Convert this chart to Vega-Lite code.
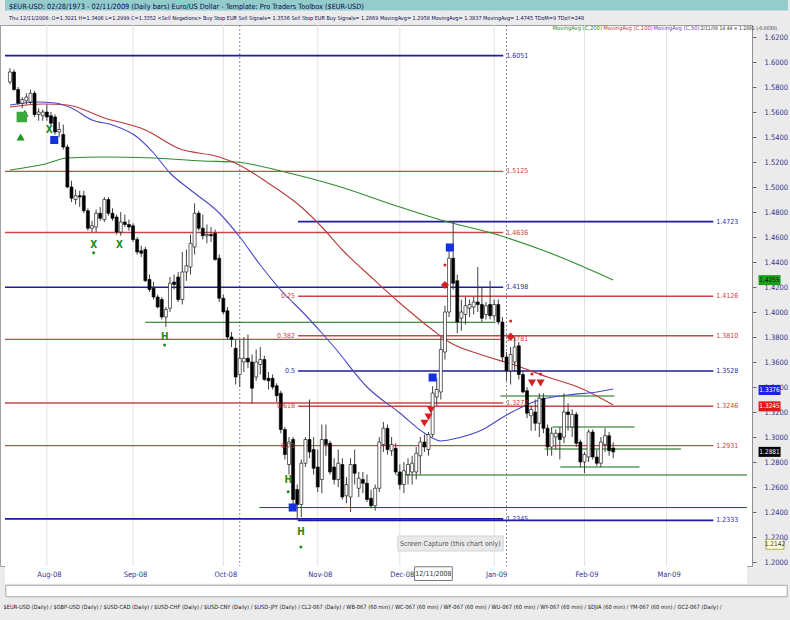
{
"$schema":"https://vega.github.io/schema/vega-lite/v6.json",
"width":752,"height":541,
"autosize":{"type":"none"},
"padding":{"left":0,"top":25,"right":38,"bottom":54},
"background":"#ebebeb",
"config":{"view":{"stroke":"#a0a0a0","fill":"white"},"font":"Liberation Sans Narrow, DejaVu Sans Condensed, sans-serif","axis":{"labelOverlap":false}},
"title":{"text":"$EUR-USD:  02/28/1973 - 02/11/2009  (Daily bars)    Euro/US Dollar  -  Template: Pro Traders Toolbox ($EUR-USD)","subtitle":"Thu 12/11/2008:  O=1.3021  H=1.3406  L=1.2999  C=1.3352  <Sell Negations>  Buy Stop EUR Sell Signals= 1.3536  Sell Stop EUR Buy Signals= 1.2869  MovingAvg= 1.2958  MovingAvg= 1.3837  MovingAvg= 1.4745  TDoM=9  TDoY=248","anchor":"start","frame":"group","offset":-21,"fontSize":7.3,"fontWeight":"normal","color":"#0a0a50","subtitleFontSize":5.5,"subtitleColor":"#0a0a50","subtitlePadding":5,"dx":9,"zindex":1},
"resolve":{"scale":{"color":"independent","strokeWidth":"independent","shape":"independent","size":"independent"}},
"datasets":{
"c":[
{"i":0,"o":1.584,"h":1.595,"l":1.582,"c":1.592},{"i":1,"o":1.592,"h":1.594,"l":1.577,"c":1.578},{"i":2,"o":1.578,"h":1.580,"l":1.566,"c":1.567},{"i":3,"o":1.567,"h":1.572,"l":1.563,"c":1.570},{"i":4,"o":1.569,"h":1.575,"l":1.566,"c":1.572},{"i":5,"o":1.568,"h":1.578,"l":1.566,"c":1.575},{"i":6,"o":1.575,"h":1.577,"l":1.556,"c":1.558},{"i":7,"o":1.558,"h":1.563,"l":1.553,"c":1.560},{"i":8,"o":1.557,"h":1.562,"l":1.553,"c":1.560},{"i":9,"o":1.560,"h":1.566,"l":1.553,"c":1.556},
{"i":10,"o":1.557,"h":1.560,"l":1.549,"c":1.551},{"i":11,"o":1.556,"h":1.558,"l":1.542,"c":1.544},{"i":12,"o":1.544,"h":1.552,"l":1.540,"c":1.546},{"i":13,"o":1.542,"h":1.550,"l":1.530,"c":1.532},{"i":14,"o":1.532,"h":1.534,"l":1.499,"c":1.500},{"i":15,"o":1.500,"h":1.505,"l":1.488,"c":1.491},{"i":16,"o":1.490,"h":1.498,"l":1.486,"c":1.493},{"i":17,"o":1.493,"h":1.497,"l":1.484,"c":1.492},{"i":18,"o":1.493,"h":1.497,"l":1.479,"c":1.481},{"i":19,"o":1.481,"h":1.483,"l":1.465,"c":1.467},
{"i":20,"o":1.467,"h":1.473,"l":1.464,"c":1.469},{"i":21,"o":1.468,"h":1.482,"l":1.464,"c":1.479},{"i":22,"o":1.479,"h":1.484,"l":1.473,"c":1.475},{"i":23,"o":1.474,"h":1.492,"l":1.472,"c":1.490},{"i":24,"o":1.490,"h":1.492,"l":1.477,"c":1.479},{"i":25,"o":1.479,"h":1.483,"l":1.473,"c":1.475},{"i":26,"o":1.476,"h":1.478,"l":1.462,"c":1.464},{"i":27,"o":1.464,"h":1.480,"l":1.461,"c":1.472},{"i":28,"o":1.472,"h":1.478,"l":1.468,"c":1.470},{"i":29,"o":1.470,"h":1.474,"l":1.465,"c":1.468},
{"i":30,"o":1.469,"h":1.471,"l":1.456,"c":1.458},{"i":31,"o":1.458,"h":1.460,"l":1.446,"c":1.448},{"i":32,"o":1.449,"h":1.453,"l":1.444,"c":1.447},{"i":33,"o":1.450,"h":1.452,"l":1.424,"c":1.425},{"i":34,"o":1.426,"h":1.430,"l":1.416,"c":1.418},{"i":35,"o":1.419,"h":1.424,"l":1.410,"c":1.412},{"i":36,"o":1.412,"h":1.414,"l":1.403,"c":1.404},{"i":37,"o":1.410,"h":1.412,"l":1.394,"c":1.396},{"i":38,"o":1.396,"h":1.404,"l":1.388,"c":1.402},{"i":39,"o":1.403,"h":1.428,"l":1.400,"c":1.423},
{"i":40,"o":1.424,"h":1.430,"l":1.418,"c":1.422},{"i":41,"o":1.428,"h":1.432,"l":1.408,"c":1.410},{"i":42,"o":1.410,"h":1.448,"l":1.406,"c":1.432},{"i":43,"o":1.432,"h":1.450,"l":1.425,"c":1.437},{"i":44,"o":1.436,"h":1.462,"l":1.430,"c":1.455},{"i":45,"o":1.452,"h":1.487,"l":1.446,"c":1.479},{"i":46,"o":1.479,"h":1.481,"l":1.465,"c":1.467},{"i":47,"o":1.467,"h":1.478,"l":1.458,"c":1.461},{"i":48,"o":1.461,"h":1.470,"l":1.455,"c":1.462},{"i":49,"o":1.462,"h":1.468,"l":1.456,"c":1.461},
{"i":50,"o":1.463,"h":1.466,"l":1.441,"c":1.442},{"i":51,"o":1.443,"h":1.446,"l":1.408,"c":1.411},{"i":52,"o":1.411,"h":1.414,"l":1.398,"c":1.400},{"i":53,"o":1.401,"h":1.404,"l":1.378,"c":1.380},{"i":54,"o":1.380,"h":1.384,"l":1.372,"c":1.378},{"i":55,"o":1.371,"h":1.378,"l":1.342,"c":1.348},{"i":56,"o":1.350,"h":1.378,"l":1.340,"c":1.363},{"i":57,"o":1.360,"h":1.380,"l":1.352,"c":1.363},{"i":58,"o":1.363,"h":1.382,"l":1.355,"c":1.360},{"i":59,"o":1.360,"h":1.366,"l":1.327,"c":1.339},
{"i":60,"o":1.348,"h":1.370,"l":1.345,"c":1.360},{"i":61,"o":1.358,"h":1.372,"l":1.350,"c":1.362},{"i":62,"o":1.362,"h":1.365,"l":1.345,"c":1.346},{"i":63,"o":1.347,"h":1.352,"l":1.338,"c":1.345},{"i":64,"o":1.347,"h":1.350,"l":1.338,"c":1.340},{"i":65,"o":1.341,"h":1.343,"l":1.328,"c":1.333},{"i":66,"o":1.335,"h":1.337,"l":1.303,"c":1.306},{"i":67,"o":1.306,"h":1.308,"l":1.282,"c":1.286},{"i":68,"o":1.278,"h":1.300,"l":1.270,"c":1.296},{"i":69,"o":1.298,"h":1.300,"l":1.245,"c":1.250},
{"i":70,"o":1.258,"h":1.262,"l":1.2333,"c":1.246},{"i":71,"o":1.246,"h":1.282,"l":1.236,"c":1.279},{"i":72,"o":1.279,"h":1.300,"l":1.276,"c":1.298},{"i":73,"o":1.298,"h":1.330,"l":1.283,"c":1.288},{"i":74,"o":1.290,"h":1.300,"l":1.270,"c":1.275},{"i":75,"o":1.276,"h":1.290,"l":1.256,"c":1.260},{"i":76,"o":1.266,"h":1.310,"l":1.255,"c":1.298},{"i":77,"o":1.298,"h":1.310,"l":1.285,"c":1.294},{"i":78,"o":1.295,"h":1.297,"l":1.270,"c":1.272},{"i":79,"o":1.276,"h":1.283,"l":1.262,"c":1.266},
{"i":80,"o":1.266,"h":1.290,"l":1.260,"c":1.279},{"i":81,"o":1.278,"h":1.283,"l":1.250,"c":1.252},{"i":82,"o":1.253,"h":1.268,"l":1.247,"c":1.262},{"i":83,"o":1.252,"h":1.283,"l":1.240,"c":1.278},{"i":84,"o":1.278,"h":1.290,"l":1.262,"c":1.271},{"i":85,"o":1.259,"h":1.272,"l":1.252,"c":1.267},{"i":86,"o":1.266,"h":1.272,"l":1.255,"c":1.263},{"i":87,"o":1.263,"h":1.270,"l":1.248,"c":1.250},{"i":88,"o":1.251,"h":1.258,"l":1.243,"c":1.245},{"i":89,"o":1.245,"h":1.262,"l":1.241,"c":1.259},
{"i":90,"o":1.259,"h":1.300,"l":1.256,"c":1.296},{"i":91,"o":1.294,"h":1.312,"l":1.288,"c":1.307},{"i":92,"o":1.307,"h":1.310,"l":1.286,"c":1.290},{"i":93,"o":1.289,"h":1.300,"l":1.285,"c":1.294},{"i":94,"o":1.291,"h":1.295,"l":1.270,"c":1.272},{"i":95,"o":1.272,"h":1.278,"l":1.258,"c":1.262},{"i":96,"o":1.262,"h":1.280,"l":1.255,"c":1.273},{"i":97,"o":1.270,"h":1.283,"l":1.262,"c":1.278},{"i":98,"o":1.272,"h":1.285,"l":1.262,"c":1.279},{"i":99,"o":1.272,"h":1.292,"l":1.266,"c":1.287},
{"i":100,"o":1.285,"h":1.300,"l":1.270,"c":1.296},{"i":101,"o":1.296,"h":1.302,"l":1.288,"c":1.292},{"i":102,"o":1.290,"h":1.304,"l":1.285,"c":1.302},{"i":103,"o":1.3021,"h":1.3406,"l":1.2999,"c":1.3352},{"i":104,"o":1.332,"h":1.347,"l":1.325,"c":1.338},{"i":105,"o":1.336,"h":1.380,"l":1.330,"c":1.370},{"i":106,"o":1.368,"h":1.405,"l":1.362,"c":1.400},{"i":107,"o":1.400,"h":1.452,"l":1.396,"c":1.443},{"i":108,"o":1.443,"h":1.4723,"l":1.418,"c":1.423},{"i":109,"o":1.425,"h":1.430,"l":1.383,"c":1.392},
{"i":110,"o":1.395,"h":1.410,"l":1.385,"c":1.400},{"i":111,"o":1.398,"h":1.412,"l":1.390,"c":1.405},{"i":112,"o":1.403,"h":1.410,"l":1.396,"c":1.406},{"i":113,"o":1.404,"h":1.412,"l":1.398,"c":1.408},{"i":114,"o":1.408,"h":1.436,"l":1.400,"c":1.406},{"i":115,"o":1.406,"h":1.420,"l":1.392,"c":1.395},{"i":116,"o":1.398,"h":1.408,"l":1.394,"c":1.405},{"i":117,"o":1.406,"h":1.425,"l":1.394,"c":1.397},{"i":118,"o":1.397,"h":1.410,"l":1.393,"c":1.406},{"i":119,"o":1.406,"h":1.410,"l":1.390,"c":1.392},
{"i":120,"o":1.392,"h":1.396,"l":1.360,"c":1.364},{"i":121,"o":1.364,"h":1.368,"l":1.345,"c":1.353},{"i":122,"o":1.353,"h":1.372,"l":1.342,"c":1.366},{"i":123,"o":1.360,"h":1.380,"l":1.352,"c":1.372},{"i":124,"o":1.373,"h":1.376,"l":1.346,"c":1.350},{"i":125,"o":1.350,"h":1.353,"l":1.335,"c":1.336},{"i":126,"o":1.337,"h":1.340,"l":1.315,"c":1.319},{"i":127,"o":1.317,"h":1.325,"l":1.305,"c":1.322},{"i":128,"o":1.320,"h":1.330,"l":1.305,"c":1.311},{"i":129,"o":1.311,"h":1.335,"l":1.300,"c":1.331},
{"i":130,"o":1.331,"h":1.335,"l":1.303,"c":1.307},{"i":131,"o":1.307,"h":1.310,"l":1.285,"c":1.292},{"i":132,"o":1.292,"h":1.308,"l":1.285,"c":1.303},{"i":133,"o":1.300,"h":1.306,"l":1.290,"c":1.303},{"i":134,"o":1.303,"h":1.308,"l":1.282,"c":1.298},{"i":135,"o":1.300,"h":1.335,"l":1.295,"c":1.320},{"i":136,"o":1.320,"h":1.327,"l":1.305,"c":1.318},{"i":137,"o":1.308,"h":1.322,"l":1.300,"c":1.318},{"i":138,"o":1.318,"h":1.320,"l":1.292,"c":1.295},{"i":139,"o":1.296,"h":1.298,"l":1.276,"c":1.280},
{"i":140,"o":1.280,"h":1.288,"l":1.271,"c":1.286},{"i":141,"o":1.284,"h":1.306,"l":1.280,"c":1.304},{"i":142,"o":1.304,"h":1.306,"l":1.282,"c":1.284},{"i":143,"o":1.284,"h":1.290,"l":1.277,"c":1.279},{"i":144,"o":1.279,"h":1.300,"l":1.276,"c":1.296},{"i":145,"o":1.294,"h":1.307,"l":1.288,"c":1.301},{"i":146,"o":1.301,"h":1.304,"l":1.285,"c":1.289},{"i":147,"o":1.2911,"h":1.2958,"l":1.2830,"c":1.2881}
],
"ma":[
{"s":"MA200","i":0,"p":1.5136},{"s":"MA200","i":8,"p":1.518},{"s":"MA200","i":14,"p":1.5232},{"s":"MA200","i":23,"p":1.524},{"s":"MA200","i":35,"p":1.5232},{"s":"MA200","i":47,"p":1.5208},{"s":"MA200","i":55,"p":1.52},{"s":"MA200","i":67,"p":1.512},{"s":"MA200","i":79,"p":1.5016},{"s":"MA200","i":95,"p":1.484},{"s":"MA200","i":105,"p":1.4736},{"s":"MA200","i":119,"p":1.4616},{"s":"MA200","i":131,"p":1.448},{"s":"MA200","i":147,"p":1.4256},
{"s":"MA100","i":0,"p":1.564},{"s":"MA100","i":8,"p":1.5664},{"s":"MA100","i":14,"p":1.5656},{"s":"MA100","i":23,"p":1.5552},{"s":"MA100","i":33,"p":1.5456},{"s":"MA100","i":41,"p":1.531},{"s":"MA100","i":51,"p":1.524},{"s":"MA100","i":55,"p":1.519},{"s":"MA100","i":63,"p":1.503},{"s":"MA100","i":71,"p":1.484},{"s":"MA100","i":76,"p":1.468},{"s":"MA100","i":81,"p":1.4496},{"s":"MA100","i":88,"p":1.428},{"s":"MA100","i":95,"p":1.4072},{"s":"MA100","i":103,"p":1.3856},{"s":"MA100","i":107,"p":1.376},{"s":"MA100","i":115,"p":1.3656},{"s":"MA100","i":123,"p":1.3576},{"s":"MA100","i":131,"p":1.348},{"s":"MA100","i":139,"p":1.3392},{"s":"MA100","i":147,"p":1.3256},
{"s":"MA50","i":0,"p":1.5656},{"s":"MA50","i":7,"p":1.568},{"s":"MA50","i":11,"p":1.5672},{"s":"MA50","i":15,"p":1.5632},{"s":"MA50","i":20,"p":1.5536},{"s":"MA50","i":25,"p":1.5496},{"s":"MA50","i":31,"p":1.54},{"s":"MA50","i":35,"p":1.5272},{"s":"MA50","i":39,"p":1.5112},{"s":"MA50","i":44,"p":1.4976},{"s":"MA50","i":51,"p":1.4792},{"s":"MA50","i":56,"p":1.46},{"s":"MA50","i":61,"p":1.4376},{"s":"MA50","i":66,"p":1.4176},{"s":"MA50","i":72,"p":1.3976},{"s":"MA50","i":76,"p":1.3832},{"s":"MA50","i":79,"p":1.372},{"s":"MA50","i":87,"p":1.340},{"s":"MA50","i":95,"p":1.3192},{"s":"MA50","i":101,"p":1.3032},{"s":"MA50","i":105,"p":1.2968},{"s":"MA50","i":108,"p":1.2984},{"s":"MA50","i":115,"p":1.3056},{"s":"MA50","i":121,"p":1.3176},{"s":"MA50","i":129,"p":1.3296},{"s":"MA50","i":136,"p":1.3336},{"s":"MA50","i":143,"p":1.336},{"s":"MA50","i":147,"p":1.3384}
],
"hl":[
{"p":1.6051,"i1":-1.2,"i2":120.2,"k":"pivot","lab":"1.6051","fib":""},
{"p":1.5125,"i1":-1.2,"i2":120.2,"k":"retrace","lab":"1.5125","fib":""},
{"p":1.4723,"i1":70.2,"i2":171.4,"k":"pivot","lab":"1.4723","fib":""},
{"p":1.4636,"i1":-1.2,"i2":120.2,"k":"retrace","lab":"1.4636","fib":""},
{"p":1.4198,"i1":-1.2,"i2":120.2,"k":"pivot","lab":"1.4198","fib":""},
{"p":1.4126,"i1":70.2,"i2":171.4,"k":"retrace","lab":"1.4126","fib":"0.25"},
{"p":1.3810,"i1":70.2,"i2":171.4,"k":"retrace","lab":"1.3810","fib":"0.382"},
{"p":1.3781,"i1":-1.2,"i2":120.2,"k":"retrace","lab":"1.3781","fib":""},
{"p":1.3528,"i1":70.2,"i2":171.4,"k":"pivot","lab":"1.3528","fib":"0.5"},
{"p":1.3272,"i1":-1.2,"i2":120.2,"k":"retrace","lab":"1.3272","fib":""},
{"p":1.3246,"i1":70.2,"i2":171.4,"k":"retrace","lab":"1.3246","fib":"0.618"},
{"p":1.2931,"i1":-1.2,"i2":171.4,"k":"retrace","lab":"1.2931","fib":"0.75"},
{"p":1.2345,"i1":-1.2,"i2":120.2,"k":"pivot","lab":"1.2345","fib":""},
{"p":1.2333,"i1":70.2,"i2":171.4,"k":"pivot","lab":"1.2333","fib":""},
{"p":1.3918,"i1":33,"i2":118.3,"k":"zone","lab":"","fib":""},
{"p":1.3328,"i1":119.5,"i2":147.3,"k":"zone","lab":"","fib":""},
{"p":1.3080,"i1":132.2,"i2":152.2,"k":"zone","lab":"","fib":""},
{"p":1.2904,"i1":130.3,"i2":163.5,"k":"zone","lab":"","fib":""},
{"p":1.2760,"i1":134.1,"i2":153.4,"k":"zone","lab":"","fib":""},
{"p":1.2696,"i1":94.2,"i2":179.6,"k":"zone","lab":"","fib":""},
{"p":1.2436,"i1":60.8,"i2":179.6,"k":"zone","lab":"","fib":""}
],
"sig":[
{"i":2.9,"p":1.556,"s":"gsq"},{"i":3.6,"p":1.559,"s":"gup"},{"i":2.6,"p":1.540,"s":"gup"},
{"i":9.6,"p":1.5456,"s":"X"},{"i":20.4,"p":1.4536,"s":"X"},{"i":26.7,"p":1.4536,"s":"X"},{"i":20.4,"p":1.4475,"s":"gdot"},
{"i":37.7,"p":1.380,"s":"H"},{"i":37.7,"p":1.3736,"s":"gdot"},{"i":67.8,"p":1.2656,"s":"H"},{"i":67.8,"p":1.2562,"s":"gdot"},{"i":70.9,"p":1.224,"s":"H"},{"i":70.9,"p":1.212,"s":"gdot"},
{"i":10.8,"p":1.5376,"s":"bsq"},{"i":68.9,"p":1.2436,"s":"bsq"},{"i":103,"p":1.3476,"s":"bsq"},{"i":107.2,"p":1.4516,"s":"bsq"},
{"i":106,"p":1.4216,"s":"rdia"},{"i":122,"p":1.3803,"s":"rdia"},{"i":106,"p":1.4376,"s":"rdot"},{"i":122,"p":1.3928,"s":"rdot"},
{"i":101,"p":1.311,"s":"rdn"},{"i":102,"p":1.316,"s":"rdn"},{"i":102.6,"p":1.3216,"s":"rdn"},{"i":127.2,"p":1.3432,"s":"rdn"},{"i":129.3,"p":1.3432,"s":"rdn"},{"i":127.2,"p":1.3504,"s":"rdot"},{"i":129.3,"p":1.3504,"s":"rdot"}
],
"tags":[
{"p":1.4255,"lab":"1.4255","k":"ma200"},{"p":1.3376,"lab":"1.3376","k":"ma50"},{"p":1.3245,"lab":"1.3245","k":"ma100"},{"p":1.2881,"lab":"1.2881","k":"last"}
],
"months":[{"i":9},{"i":30},{"i":52},{"i":75},{"i":95},{"i":118},{"i":140},{"i":160}]
},
"layer":[
{"data":{"values":[{}]},"mark":{"type":"rect","color":"#94cccc"},
 "encoding":{"x":{"datum":-1.2,"type":"quantitative","scale":{"domain":[-1.2,179.6],"nice":false,"zero":false}},"x2":{"datum":189.6},"y":{"datum":1.6496,"type":"quantitative","scale":{"domain":[1.1968,1.6296],"nice":false,"zero":false}},"y2":{"datum":1.6412}}},
{"data":{"values":[{}]},"mark":{"type":"rect","color":"#ffffff"},
 "encoding":{"x":{"datum":-1.2,"type":"quantitative"},"x2":{"datum":179.6},"y":{"datum":1.1968,"type":"quantitative"},"y2":{"datum":1.1826}}},
{"data":{"values":[{}]},"mark":{"type":"rect","fill":"#ffffff","stroke":"#a8a8a8","strokeWidth":1},
 "encoding":{"x":{"datum":-1.0,"type":"quantitative"},"x2":{"datum":189.4},"y":{"datum":1.1814,"type":"quantitative"},"y2":{"datum":1.1722}}},
{"data":{"name":"months"},"mark":{"type":"rule","color":"#e2e2e2","strokeWidth":1},
 "encoding":{"x":{"field":"i","type":"quantitative"}}},
{"data":{"values":[{"i":56},{"i":121}]},"mark":{"type":"rule","color":"#8a8ab0","strokeDash":[2,2],"strokeWidth":1},
 "encoding":{"x":{"field":"i","type":"quantitative"}}},
{"data":{"name":"hl"},"mark":{"type":"rule"},
 "encoding":{
  "x":{"field":"i1","type":"quantitative","scale":{"domain":[-1.2,179.6],"nice":false,"zero":false},
   "axis":{"orient":"bottom","zindex":1,"values":[9,30,52,75,95,118,140,160],"tickCount":30,"labelExpr":"datum.value==9?'Aug-08':datum.value==30?'Sep-08':datum.value==52?'Oct-08':datum.value==75?'Nov-08':datum.value==95?'Dec-08':datum.value==118?'Jan-09':datum.value==140?'Feb-09':'Mar-09'","grid":false,"ticks":false,"domain":false,"labelFontSize":7.5,"labelColor":"#33338f","labelPadding":4,"labelOffset":2,"labelOverlap":false,
    "title":"$EUR-USD (Daily)  /  $GBP-USD (Daily)  /  $USD-CAD (Daily)  /  $USD-CHF (Daily)  /  $USD-CNY (Daily)  /  $USD-JPY (Daily)  /  CL2-067 (Daily)  /  WB-067 (60 min)  /  WC-067 (60 min)  /  WF-067 (60 min)  /  WU-067 (60 min)  /  WY-067 (60 min)  /  $DJIA (60 min)  /  YM-067 (60 min)  /  GC2-067 (Daily)  /",
    "titleFontSize":5.7,"titleFontWeight":"normal","titleColor":"#222222","titleAnchor":"start","titleAlign":"left","titleX":3,"titleY":40,"titleBaseline":"middle"}},
  "x2":{"field":"i2"},
  "y":{"field":"p","type":"quantitative","scale":{"domain":[1.1968,1.6296],"nice":false,"zero":false},
   "axis":{"orient":"right","zindex":0,"values":[1.2,1.22,1.24,1.26,1.28,1.3,1.32,1.34,1.36,1.38,1.4,1.42,1.44,1.46,1.48,1.5,1.52,1.54,1.56,1.58,1.6,1.62],"tickCount":40,"format":".4f","grid":false,"tickSize":4,"tickColor":"#666666","domainColor":"#909090","labelFontSize":7.5,"labelColor":"#33338f","labelPadding":8,"labelOverlap":false,"labelFlush":false,"title":null}},
  "color":{"field":"k","type":"nominal","scale":{"domain":["pivot","retrace","zone"],"range":["#1c1c9c","#c84848","#0b6e0b"]},"legend":null},
  "strokeWidth":{"field":"k","type":"nominal","scale":{"domain":["pivot","retrace","zone"],"range":[1.6,1.1,2]},"legend":null}}},
{"data":{"name":"ma"},"mark":{"type":"line","interpolate":"monotone","strokeWidth":1.1},
 "encoding":{"x":{"field":"i","type":"quantitative"},"y":{"field":"p","type":"quantitative"},
  "color":{"field":"s","type":"nominal","scale":{"domain":["MA200","MA100","MA50"],"range":["#2e8b2e","#b83a3a","#4848c4"]},"legend":null},"detail":{"field":"s"}}},
{"data":{"name":"c"},"mark":{"type":"rule","color":"#404040","strokeWidth":1},
 "encoding":{"x":{"field":"i","type":"quantitative"},"y":{"field":"l","type":"quantitative"},"y2":{"field":"h"}}},
{"data":{"name":"c"},"mark":{"type":"bar","size":3,"stroke":"#000000","strokeWidth":0.6},
 "encoding":{"x":{"field":"i","type":"quantitative"},"y":{"field":"o","type":"quantitative"},"y2":{"field":"c"},
  "fill":{"condition":{"test":"datum.c >= datum.o","value":"#ffffff"},"value":"#000000"}}},
{"data":{"name":"hl"},"transform":[{"filter":"datum.lab != ''"}],"mark":{"type":"text","align":"left","baseline":"middle","dx":3,"fontSize":7},
 "encoding":{"x":{"field":"i2","type":"quantitative"},"y":{"field":"p","type":"quantitative"},"text":{"field":"lab"},
  "color":{"field":"k","type":"nominal","scale":{"domain":["pivot","retrace"],"range":["#2a2aa8","#cc3c3c"]},"legend":null}}},
{"data":{"name":"hl"},"transform":[{"filter":"datum.fib != ''"}],"mark":{"type":"text","align":"right","baseline":"middle","dx":-3,"fontSize":7},
 "encoding":{"x":{"datum":70.2,"type":"quantitative"},"y":{"field":"p","type":"quantitative"},"text":{"field":"fib"},
  "color":{"field":"k","type":"nominal","scale":{"domain":["pivot","retrace"],"range":["#2a2aa8","#cc3c3c"]},"legend":null}}},
{"data":{"name":"sig"},"transform":[{"filter":"datum.s == 'H' || datum.s == 'X'"}],"mark":{"type":"text","align":"center","baseline":"middle","fontSize":10,"fontWeight":"bold","color":"#1e8c1e"},
 "encoding":{"x":{"field":"i","type":"quantitative"},"y":{"field":"p","type":"quantitative"},"text":{"field":"s"}}},
{"data":{"name":"sig"},"transform":[{"filter":"datum.s == 'bsq' || datum.s == 'rdia' || datum.s == 'rdn' || datum.s == 'gup'"}],"mark":{"type":"point","filled":true,"opacity":1,"size":65},
 "encoding":{"x":{"field":"i","type":"quantitative"},"y":{"field":"p","type":"quantitative"},
  "color":{"field":"s","type":"nominal","scale":{"domain":["bsq","rdia","rdn","gup"],"range":["#1530e0","#d42020","#d42020","#1a961a"]},"legend":null},
  "shape":{"field":"s","type":"nominal","scale":{"domain":["bsq","rdia","rdn","gup"],"range":["square","diamond","triangle-down","triangle-up"]},"legend":null}}},
{"data":{"name":"sig"},"transform":[{"filter":"datum.s == 'rdot' || datum.s == 'gdot'"}],"mark":{"type":"point","filled":true,"opacity":1,"size":9,"shape":"circle"},
 "encoding":{"x":{"field":"i","type":"quantitative"},"y":{"field":"p","type":"quantitative"},
  "color":{"field":"s","type":"nominal","scale":{"domain":["rdot","gdot"],"range":["#d42020","#1a8c1a"]},"legend":null}}},
{"data":{"name":"sig"},"transform":[{"filter":"datum.s == 'gsq'"}],"mark":{"type":"point","filled":true,"opacity":1,"size":110,"shape":"square","color":"#3aa83a"},
 "encoding":{"x":{"field":"i","type":"quantitative"},"y":{"field":"p","type":"quantitative"}}},
{"data":{"name":"tags"},"mark":{"type":"tick","orient":"horizontal","size":22,"thickness":10,"opacity":1},
 "encoding":{"x":{"datum":185.1,"type":"quantitative"},"y":{"field":"p","type":"quantitative"},
  "color":{"field":"k","type":"nominal","scale":{"domain":["ma200","ma50","ma100","last"],"range":["#18a018","#1f1fe0","#e01818","#000000"]},"legend":null}}},
{"data":{"name":"tags"},"mark":{"type":"text","align":"center","baseline":"middle","fontSize":6.5},
 "encoding":{"x":{"datum":185.1,"type":"quantitative"},"y":{"field":"p","type":"quantitative"},"text":{"field":"lab"},
  "color":{"field":"k","type":"nominal","scale":{"domain":["ma200","ma50","ma100","last"],"range":["#002000","#ffffff","#ffffff","#ffffff"]},"legend":null}}},
{"data":{"values":[{"t":"1.2142"}]},"mark":{"type":"tick","orient":"horizontal","size":18,"thickness":10,"opacity":1,"color":"#ffffd8","stroke":"#808000","strokeWidth":0.6},
 "encoding":{"x":{"datum":186.4,"type":"quantitative"},"y":{"datum":1.2142,"type":"quantitative"}}},
{"data":{"values":[{"t":"1.2142"}]},"mark":{"type":"text","align":"center","baseline":"middle","fontSize":6.5,"color":"#333333"},
 "encoding":{"x":{"datum":186.4,"type":"quantitative"},"y":{"datum":1.2142,"type":"quantitative"},"text":{"field":"t"}}},
{"data":{"values":[{"t":"MovingAvg (C,200)"}]},"mark":{"type":"text","align":"left","baseline":"middle","fontSize":5.8,"color":"#2e8b2e"},
 "encoding":{"x":{"datum":132.2,"type":"quantitative"},"y":{"datum":1.6275,"type":"quantitative"},"text":{"field":"t"}}},
{"data":{"values":[{"t":"MovingAvg (C,100)"}]},"mark":{"type":"text","align":"left","baseline":"middle","fontSize":5.8,"color":"#b83a3a"},
 "encoding":{"x":{"datum":144.6,"type":"quantitative"},"y":{"datum":1.6275,"type":"quantitative"},"text":{"field":"t"}}},
{"data":{"values":[{"t":"MovingAvg (C,50)"}]},"mark":{"type":"text","align":"left","baseline":"middle","fontSize":5.8,"color":"#7040b0"},
 "encoding":{"x":{"datum":156.8,"type":"quantitative"},"y":{"datum":1.6275,"type":"quantitative"},"text":{"field":"t"}}},
{"data":{"values":[{"t":"2/11/09 14:44 = 1.2881 (-0.0030)"}]},"mark":{"type":"text","align":"left","baseline":"middle","fontSize":5,"color":"#333333"},
 "encoding":{"x":{"datum":168.3,"type":"quantitative"},"y":{"datum":1.6275,"type":"quantitative"},"text":{"field":"t"}}},
{"data":{"values":[{}]},"mark":{"type":"rect","fill":"#e9e9e9","stroke":"#d4d4d4","strokeWidth":1},
 "encoding":{"x":{"datum":94.5,"type":"quantitative"},"x2":{"datum":120.2},"y":{"datum":1.2208,"type":"quantitative"},"y2":{"datum":1.2088}}},
{"data":{"values":[{"t":"Screen Capture (this chart only)"}]},"mark":{"type":"text","align":"center","baseline":"middle","fontSize":7,"color":"#555555"},
 "encoding":{"x":{"datum":107.3,"type":"quantitative"},"y":{"datum":1.2148,"type":"quantitative"},"text":{"field":"t"}}},
{"data":{"values":[{}]},"mark":{"type":"rect","fill":"#ffffff","stroke":"#777777","strokeWidth":1},
 "encoding":{"x":{"datum":98.6,"type":"quantitative"},"x2":{"datum":107.8},"y":{"datum":1.1962,"type":"quantitative"},"y2":{"datum":1.1852}}},
{"data":{"values":[{"t":"12/11/2008"}]},"mark":{"type":"text","align":"center","baseline":"middle","fontSize":7,"color":"#333333"},
 "encoding":{"x":{"datum":103.2,"type":"quantitative"},"y":{"datum":1.1907,"type":"quantitative"},"text":{"field":"t"}}}
]
}
